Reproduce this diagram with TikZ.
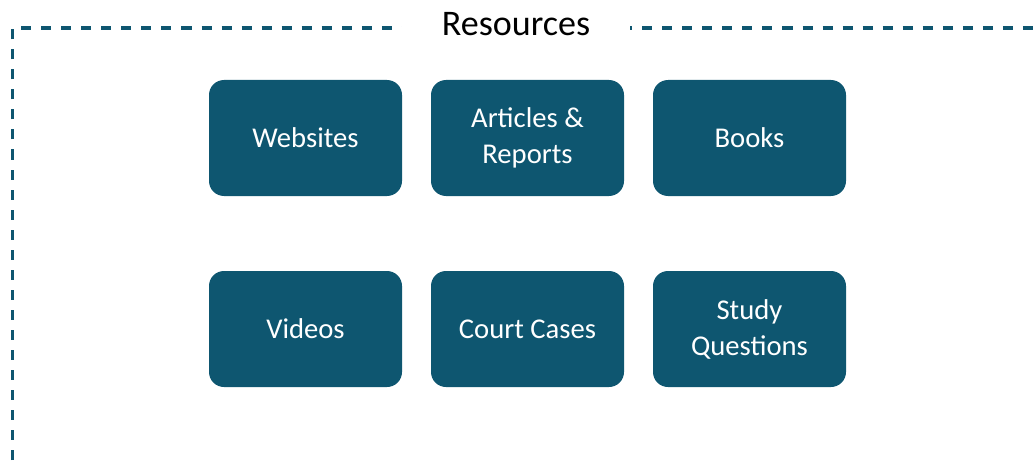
\documentclass[tikz,border=0pt]{standalone}
\usepackage{fontspec}
\setmainfont{Carlito}
\definecolor{resteal}{HTML}{0E5670}
\tikzset{
	resbox/.style={fill=resteal, rounded corners=0.3cm, minimum width=3.86cm, minimum height=2.32cm, text=white, align=center, font=\fontsize{16.3}{20.5}\selectfont},
	resline/.style={line width=1.9pt, color=resteal, dash pattern=on 5.7pt off 5.7pt}
}

\begin{document}
\begin{tikzpicture}
		%%%%% START %%%%%
		
		\useasboundingbox (0, 0) rectangle (20.72, 9.2);
		
		\draw[resline] (0.25, 0) -- (0.25, 8.64) -- (20.72, 8.64);
		\node[fill=white, inner xsep=0.8cm, anchor=base, font=\fontsize{20.5}{24}\selectfont] (title) at (10.32, 8.48) {Resources};
		
		\node[resbox] (websites) at (6.11, 6.44) {Websites};
		\node[resbox] (articles) at (10.55, 6.44) {Articles \&\\Reports};
		\node[resbox] (books) at (14.99, 6.44) {Books};
		
		\node[resbox] (videos) at (6.11, 2.62) {Videos};
		\node[resbox] (cases) at (10.55, 2.62) {Court Cases};
		\node[resbox] (questions) at (14.99, 2.62) {Study\\Questions};
		
		%%%%% END %%%%%
	\end{tikzpicture}
\end{document}
